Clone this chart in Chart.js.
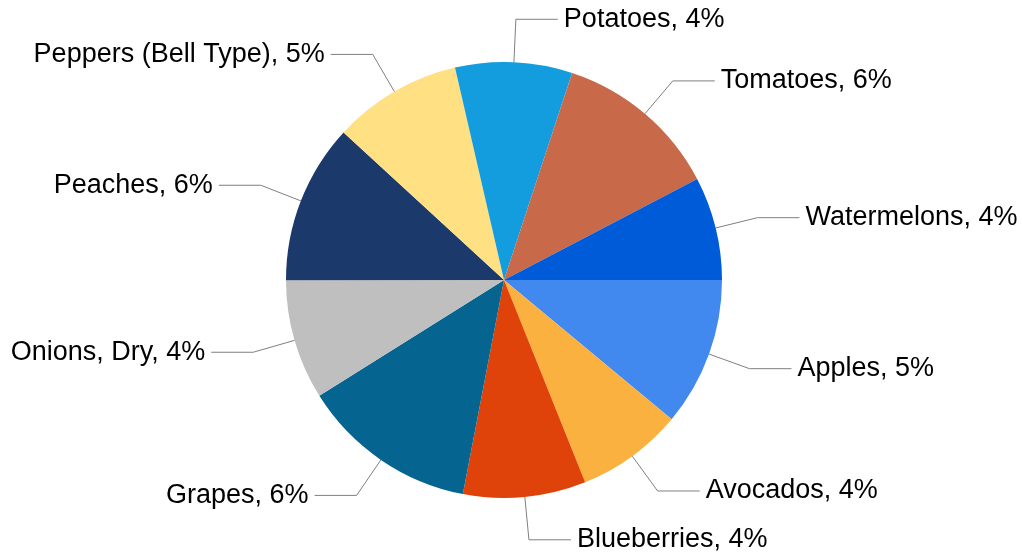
<!DOCTYPE html>
<html lang="en">

<head>
    <meta charset="UTF-8">
    <title>Produce share</title>
    <script src="https://cdn.jsdelivr.net/npm/chart.js"></script>
    <style>
        html, body { margin: 0; padding: 0; background: #fff; }
        #wrap { width: 1022px; height: 557px; }
    </style>
</head>

<body>
    <div id="wrap"><canvas id="chart" width="1022" height="557"></canvas></div>
    <script>
        const crops = ['Apples', 'Avocados', 'Blueberries', 'Grapes', 'Onions, Dry', 'Peaches',
            'Peppers (Bell Type)', 'Potatoes', 'Tomatoes', 'Watermelons'];
        const shares = [5.45, 3.9, 4.49, 6.45, 4.4, 5.85, 4.72, 4.28, 6.06, 3.79];
        const colors = ['#4189ee', '#fbb13f', '#e0430a', '#066491', '#bfbfbf', '#1b3a6b',
            '#ffe082', '#139cde', '#c8694a', '#005bd9'];

        // callout labels with elbow leader lines
        const calloutLabels = {
            id: 'calloutLabels',
            afterDatasetsDraw(chart) {
                const ctx = chart.ctx;
                const arcs = chart.getDatasetMeta(0).data;
                ctx.save();
                ctx.font = '27px "Liberation Sans", Arial, sans-serif';
                ctx.textBaseline = 'middle';
                arcs.forEach((arc, i) => {
                    const p = arc.getProps(['x', 'y', 'startAngle', 'endAngle', 'outerRadius'], true);
                    const mid = (p.startAngle + p.endAngle) / 2;
                    const cos = Math.cos(mid), sin = Math.sin(mid);
                    const x0 = p.x + cos * p.outerRadius, y0 = p.y + sin * p.outerRadius;
                    const x1 = p.x + cos * (p.outerRadius + 43), y1 = p.y + sin * (p.outerRadius + 43);
                    const right = cos >= -0.01;
                    const x2 = x1 + (right ? 42 : -42);
                    ctx.strokeStyle = '#7f7f7f';
                    ctx.lineWidth = 1;
                    ctx.beginPath();
                    ctx.moveTo(x0, y0);
                    ctx.lineTo(x1, y1);
                    ctx.lineTo(x2, y1);
                    ctx.stroke();
                    ctx.fillStyle = '#000';
                    ctx.textAlign = right ? 'left' : 'right';
                    const txt = crops[i] + ', ' + Math.round(shares[i]) + '%';
                    ctx.fillText(txt, x2 + (right ? 6 : -6), y1);
                });
                ctx.restore();
            }
        };

        new Chart(document.getElementById('chart'), {
            type: 'pie',
            data: {
                labels: crops,
                datasets: [{
                    data: shares,
                    backgroundColor: colors,
                    borderWidth: 0
                }]
            },
            options: {
                responsive: false,
                animation: false,
                rotation: 90,
                layout: { padding: { left: 286, right: 300, top: 62, bottom: 59 } },
                plugins: {
                    legend: { display: false },
                    tooltip: { enabled: false }
                }
            },
            plugins: [calloutLabels]
        });
    </script>
</body>

</html>
